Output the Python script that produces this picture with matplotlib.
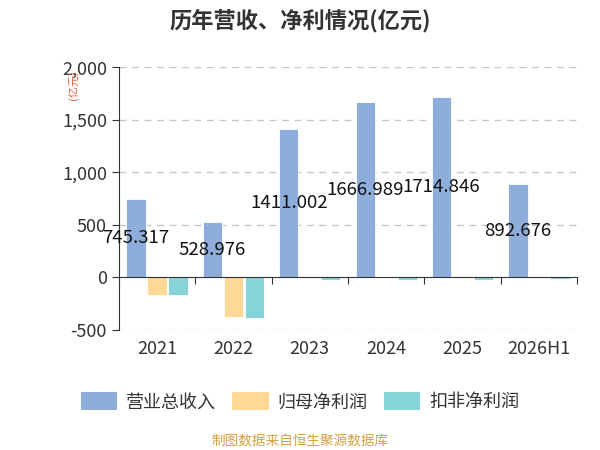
import matplotlib.pyplot as plt
import numpy as np
from matplotlib.patches import Patch

plt.rcParams['font.family'] = ['Noto Sans CJK SC', 'DejaVu Sans']

years = ['2021', '2022', '2023', '2024', '2025', '2026H1']
revenue = [745.317, 528.976, 1411.002, 1666.989, 1714.846, 892.676]
net_profit = [-165, -380, -5, 0, -5, -5]
net_profit_ex = [-171, -386, -22, -20, -20, -15]

series_names = ['营业总收入', '归母净利润', '扣非净利润']
colors = ['#8EADDB', '#FFD898', '#86D4D8']

fig = plt.figure(figsize=(6, 4.5), dpi=100)
ax = fig.add_axes([0.198, 0.2667, 0.764, 0.584])

x = np.arange(len(years))
w = 0.25
offs = [-0.275, 0, 0.275]
for vals, off, c in zip([revenue, net_profit, net_profit_ex], offs, colors):
    ax.bar(x + off, vals, width=w, color=c, edgecolor='white', linewidth=0.6, zorder=3)

# value labels sit in the middle of the revenue bars
for xi, v in zip(x, revenue):
    ax.text(xi - 0.275, v / 2, f'{v:.3f}', ha='center', va='center',
            fontsize=13.4, color='#111111', zorder=5)

ax.set_xlim(-0.5, len(years) - 0.5)
ax.set_ylim(-500, 2000)
ax.set_yticks([-500, 0, 500, 1000, 1500, 2000])
ax.set_yticklabels(['-500', '0', '500', '1,000', '1,500', '2,000'])
for yv in [-500, 500, 1000, 1500, 2000]:
    ax.axhline(yv, color='#c8c8c8', linestyle=(0, (5, 4)), linewidth=1, zorder=1)

ax.spines['top'].set_visible(False)
ax.spines['right'].set_visible(False)
ax.spines['bottom'].set_position(('data', 0))
ax.spines['bottom'].set_color('#333333')
ax.spines['left'].set_color('#333333')
ax.spines['bottom'].set_zorder(4)

ax.set_xticks(np.arange(len(years) + 1) - 0.5)
ax.set_xticklabels([])
ax.tick_params(axis='x', which='major', direction='out', length=5, color='#333333')
ax.tick_params(axis='y', length=5, color='#333333', labelsize=13, labelcolor='#333333')

# category names below the plot area, not at the zero line
for xi, yr in zip(x, years):
    ax.text(xi, -0.04, yr, transform=ax.get_xaxis_transform(), ha='center', va='top',
            fontsize=13, color='#333333')

fig.text(0.122, 0.81, '(亿元)', rotation=90, ha='center', va='center',
         fontsize=8, color='#E8603C')

fig.text(0.5, 0.955, '历年营收、净利情况(亿元)', ha='center', va='center',
         fontsize=16, fontweight='bold', color='#333333')

handles = [Patch(facecolor=c, edgecolor='none') for c in colors]
fig.legend(handles, series_names, loc='center', bbox_to_anchor=(0.5, 0.107), ncol=3,
           frameon=False, fontsize=13, handlelength=2.0, handleheight=1.1,
           columnspacing=0.9, handletextpad=0.5, labelcolor='#333333')

fig.text(0.5, 0.018, '制图数据来自恒生聚源数据库', ha='center', va='center',
         fontsize=9.8, color='#D4A040')

fig.savefig('out.png', dpi=100)
